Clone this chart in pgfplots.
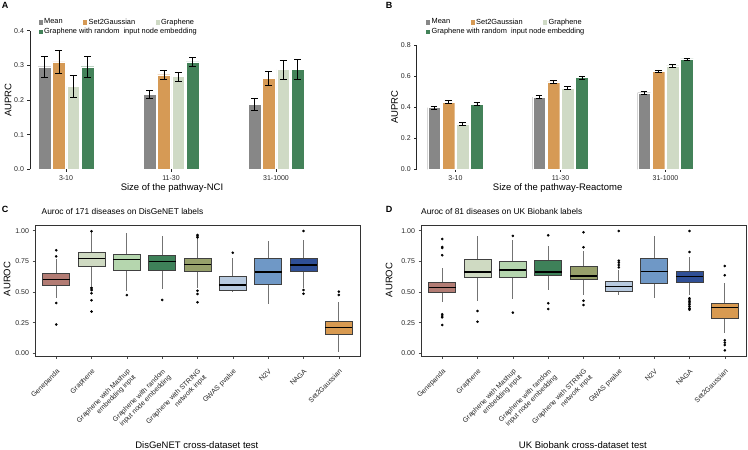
\documentclass[border=0pt]{standalone}
\usepackage{fontspec}
\setmainfont{Liberation Sans}
\usepackage{pgfplots}
\pgfplotsset{compat=1.18}
\usepgfplotslibrary{statistics}

\definecolor{barMean}{HTML}{878787}
\definecolor{barS2G}{HTML}{D69A55}
\definecolor{barGr}{HTML}{CFDAC5}
\definecolor{barGR}{HTML}{438259}
\definecolor{cGene}{HTML}{B37C74}
\definecolor{cGraph}{HTML}{CFDAC2}
\definecolor{cMash}{HTML}{B5D6AE}
\definecolor{cRand}{HTML}{3E8159}
\definecolor{cString}{HTML}{97A06B}
\definecolor{cGwas}{HTML}{B8CADF}
\definecolor{cNtv}{HTML}{6F98C6}
\definecolor{cNaga}{HTML}{2F4F96}
\definecolor{cSG}{HTML}{D89A51}

\newcommand{\fT}{\fontsize{7}{8}\selectfont}
\newcommand{\fL}{\fontsize{9.5}{11}\selectfont}
\newcommand{\fG}{\fontsize{7.4}{8.5}\selectfont}
\newcommand{\fH}{\fontsize{8.4}{10}\selectfont}

\pgfplotsset{
  barpanel/.style={
    anchor=south west, scale only axis,
    axis lines*=left, axis line style={-}, x axis line style={draw=none},
    y axis line style={black!85, line width=0.7pt},
    xtick={0,1,2}, xticklabels={3-10,11-30,31-1000},
    tick align=outside, major tick length=2.5pt, tick style={black!85, line width=0.5pt},
    ticklabel style={font=\fT, text=black!85},
    yticklabel style={/pgf/number format/.cd, fixed, fixed zerofill, precision=1, assume math mode=true},
    ybar, bar width=0.121,
    legend image code/.code={\fill[##1] (0pt,-2.6pt) rectangle (5.2pt,2.6pt);},
    legend columns=3, legend cell align=left,
    legend style={draw=none, fill=none, font=\fG, inner sep=0pt, row sep=1pt,
      nodes={inner sep=1pt}, /tikz/every even column/.append style={column sep=18.5pt}},
    error bars/y dir=both, error bars/y explicit,
    error bars/error bar style={draw=black, line width=0.7pt},
    error bars/error mark options={rotate=90, draw=black, line width=0.7pt, mark size=3.4pt},
  },
  boxpanel/.style={
    anchor=south west, scale only axis, width=325pt, height=131pt,
    xmin=0.4, xmax=9.6, ymin=-0.022, ymax=1.046,
    axis line style={black!80, line width=0.8pt},
    xtick={1,...,9},
    xticklabels={Genepanda, Graphene, {Graphene with Mashup\\embedding input},
      {Graphene with random\\input node embedding}, {Graphene with STRING\\network input},
      GWAS pvalue, N2V, NAGA, Set2Gaussian},
    ytick={0,0.25,0.5,0.75,1},
    yticklabel style={/pgf/number format/.cd, fixed, fixed zerofill, precision=2, assume math mode=true},
    xtick pos=left, ytick pos=left, tick align=outside, major tick length=2.5pt,
    tick style={black!70, line width=0.5pt},
    ticklabel style={font=\fT, text=black!85},
    xticklabel style={yshift=-5pt, rotate=45, anchor=north east, align=right},
    title style={anchor=base west, font=\fH, inner sep=0pt},
  },
  bx/.style={mark=*, mark size=1.1pt, mark options={fill=black, draw=black, solid},
    boxplot/draw direction=y,
    boxplot/box extend=0.76, boxplot/whisker extend=0,
    boxplot/every box/.style={draw=black!75, line width=0.75pt, fill=#1},
    boxplot/every whisker/.style={draw=black!55, line width=0.7pt},
    boxplot/every median/.style={draw=black, line width=1.1pt}},
}

\begin{document}
\begin{tikzpicture}
\useasboundingbox (0,0) rectangle (748pt,-450pt);

\node[anchor=base west, font=\fontsize{9}{10}\selectfont\bfseries, inner sep=0pt] at (1.7pt,-8.3pt) {A};
\node[anchor=base west, font=\fontsize{9}{10}\selectfont\bfseries, inner sep=0pt] at (385.7pt,-8.3pt) {B};
\node[anchor=base west, font=\fontsize{9}{10}\selectfont\bfseries, inner sep=0pt] at (1.7pt,-212.3pt) {C};
\node[anchor=base west, font=\fontsize{9}{10}\selectfont\bfseries, inner sep=0pt] at (385.7pt,-212.3pt) {D};

% ---------------- A
\begin{axis}[barpanel,
  at={(30pt,-169.3pt)}, width=282pt, height=138.6pt,
  xmin=-0.343, xmax=2.343, ymin=0, ymax=0.4,
  ytick={0,0.1,0.2,0.3,0.4},
  ylabel={AUPRC}, ylabel style={at={(axis description cs:-0.078,0.5)}, anchor=center, font=\fL},
  xlabel={Size of the pathway-NCI}, xlabel style={at={(axis description cs:0.5035,0)}, anchor=center, yshift=-18.7pt, font=\fL},
  legend style={at={(axis description cs:0.0266,1.095)}, anchor=north west},
]
\addplot[fill=barMean, draw=white, line width=0.3pt, bar shift=0pt] coordinates {(-0.204,0.296) +- (0,0.031) (0.796,0.216) +- (0,0.012) (1.796,0.188) +- (0,0.018)};
\addplot[fill=barS2G, draw=white, line width=0.3pt, bar shift=0pt] coordinates {(-0.068,0.310) +- (0,0.033) (0.932,0.273) +- (0,0.012) (1.932,0.262) +- (0,0.021)};
\addplot[fill=barGr, draw=white, line width=0.3pt, bar shift=0pt] coordinates {(0.068,0.240) +- (0,0.031) (1.068,0.268) +- (0,0.013) (2.068,0.288) +- (0,0.027)};
\addplot[fill=barGR, draw=white, line width=0.3pt, bar shift=0pt] coordinates {(0.204,0.296) +- (0,0.030) (1.204,0.310) +- (0,0.013) (2.204,0.288) +- (0,0.029)};
\legend{Mean, Set2Gaussian, Graphene, \makebox[0pt][l]{Graphene with random\ \ input node embedding}}
\end{axis}

% ---------------- B
\begin{axis}[barpanel,
  at={(416.7pt,-169.3pt)}, width=287.6pt, height=124.3pt,
  xmin=-0.3695, xmax=2.3695, ymin=0, ymax=0.8,
  ytick={0,0.2,0.4,0.6,0.8},
  ylabel={AUPRC}, ylabel style={at={(axis description cs:-0.0765,0.5)}, anchor=center, font=\fL},
  xlabel={Size of the pathway-Reactome}, xlabel style={at={(axis description cs:0.49,0)}, anchor=center, yshift=-18.4pt, font=\fL},
  legend style={at={(axis description cs:0.0289,1.2212)}, anchor=north west},
]
\addplot[fill=barMean, draw=white, line width=0.3pt, bar shift=0pt] coordinates {(-0.204,0.397) +- (0,0.008) (0.796,0.465) +- (0,0.009) (1.796,0.493) +- (0,0.010)};
\addplot[fill=barS2G, draw=white, line width=0.3pt, bar shift=0pt] coordinates {(-0.068,0.433) +- (0,0.008) (0.932,0.562) +- (0,0.008) (1.932,0.632) +- (0,0.008)};
\addplot[fill=barGr, draw=white, line width=0.3pt, bar shift=0pt] coordinates {(0.068,0.293) +- (0,0.007) (1.068,0.522) +- (0,0.009) (2.068,0.667) +- (0,0.008)};
\addplot[fill=barGR, draw=white, line width=0.3pt, bar shift=0pt] coordinates {(0.204,0.420) +- (0,0.009) (1.204,0.590) +- (0,0.010) (2.204,0.710) +- (0,0.007)};
\legend{Mean, Set2Gaussian, Graphene, \makebox[0pt][l]{Graphene with random\ \ input node embedding}}
\end{axis}

% ---------------- C
\begin{axis}[boxpanel,
  at={(35pt,-356pt)},
  title={Auroc of 171 diseases on DisGeNET labels},
  title style={at={(axis description cs:0.02,1)}, yshift=5pt},
  ylabel={AUROC}, ylabel style={at={(axis description cs:-0.086,0.588)}, anchor=center, font=\fL},
  xlabel={DisGeNET cross-dataset test}, xlabel style={at={(axis description cs:0.498,0)}, anchor=center, yshift=-89pt, font=\fL},
]
\addplot[bx=cGene, boxplot prepared={draw position=1, lower whisker=0.45, lower quartile=0.556, median=0.602, upper quartile=0.650, upper whisker=0.77}]
  table[row sep=\\, y index=0] {v\\0.84\\0.79\\0.41\\0.235\\};
\addplot[bx=cGraph, boxplot prepared={draw position=2, lower whisker=0.545, lower quartile=0.707, median=0.774, upper quartile=0.821, upper whisker=0.985}]
  table[row sep=\\, y index=0] {v\\0.995\\0.535\\0.525\\0.515\\0.49\\0.432\\0.34\\};
\addplot[bx=cMash, boxplot prepared={draw position=3, lower whisker=0.51, lower quartile=0.677, median=0.766, upper quartile=0.807, upper whisker=0.978}]
  table[row sep=\\, y index=0] {v\\0.475\\};
\addplot[bx=cRand, boxplot prepared={draw position=4, lower whisker=0.524, lower quartile=0.677, median=0.745, upper quartile=0.796, upper whisker=0.954}]
  table[row sep=\\, y index=0] {v\\0.435\\};
\addplot[bx=cString, boxplot prepared={draw position=5, lower whisker=0.53, lower quartile=0.670, median=0.726, upper quartile=0.774, upper whisker=0.93}]
  table[row sep=\\, y index=0] {v\\0.965\\0.957\\0.945\\0.51\\0.484\\0.416\\};
\addplot[bx=cGwas, boxplot prepared={draw position=6, lower whisker=0.497, lower quartile=0.516, median=0.557, upper quartile=0.625, upper whisker=0.78}]
  table[row sep=\\, y index=0] {v\\0.82\\};
\addplot[bx=cNtv, boxplot prepared={draw position=7, lower whisker=0.402, lower quartile=0.5625, median=0.663, upper quartile=0.772, upper whisker=0.916}]
  coordinates {};
\addplot[bx=cNaga, boxplot prepared={draw position=8, lower whisker=0.53, lower quartile=0.671, median=0.72, upper quartile=0.772, upper whisker=0.92}]
  table[row sep=\\, y index=0] {v\\0.997\\0.516\\0.486\\};
\addplot[bx=cSG, boxplot prepared={draw position=9, lower whisker=0.014, lower quartile=0.158, median=0.209, upper quartile=0.264, upper whisker=0.416}]
  table[row sep=\\, y index=0] {v\\0.503\\0.476\\};
\end{axis}

% ---------------- D
\begin{axis}[boxpanel,
  at={(421pt,-356pt)},
  title={Auroc of 81 diseases on UK Biobank labels},
  title style={at={(axis description cs:0,1)}, yshift=5pt},
  ylabel={AUROC}, ylabel style={at={(axis description cs:-0.098,0.58)}, anchor=center, font=\fL},
  xlabel={UK Biobank cross-dataset test}, xlabel style={at={(axis description cs:0.498,0)}, anchor=center, yshift=-89pt, font=\fL},
]
\addplot[bx=cGene, boxplot prepared={draw position=1, lower whisker=0.421, lower quartile=0.5, median=0.535, upper quartile=0.576, upper whisker=0.693}]
  table[row sep=\\, y index=0] {v\\0.80\\0.859\\0.867\\0.932\\0.318\\0.304\\0.293\\0.231\\};
\addplot[bx=cGraph, boxplot prepared={draw position=2, lower whisker=0.429, lower quartile=0.617, median=0.663, upper quartile=0.766, upper whisker=0.959}]
  table[row sep=\\, y index=0] {v\\0.345\\0.258\\};
\addplot[bx=cMash, boxplot prepared={draw position=3, lower whisker=0.44, lower quartile=0.622, median=0.679, upper quartile=0.753, upper whisker=0.924}]
  table[row sep=\\, y index=0] {v\\0.957\\0.332\\};
\addplot[bx=cRand, boxplot prepared={draw position=4, lower whisker=0.52, lower quartile=0.633, median=0.663, upper quartile=0.761, upper whisker=0.872}]
  table[row sep=\\, y index=0] {v\\0.962\\0.408\\0.361\\};
\addplot[bx=cString, boxplot prepared={draw position=5, lower whisker=0.476, lower quartile=0.606, median=0.63, upper quartile=0.707, upper whisker=0.834}]
  table[row sep=\\, y index=0] {v\\0.864\\0.986\\0.429\\0.394\\};
\addplot[bx=cGwas, boxplot prepared={draw position=6, lower whisker=0.476, lower quartile=0.503, median=0.541, upper quartile=0.584, upper whisker=0.679}]
  table[row sep=\\, y index=0] {v\\0.70\\0.72\\0.739\\0.755\\0.997\\};
\addplot[bx=cNtv, boxplot prepared={draw position=7, lower whisker=0.448, lower quartile=0.571, median=0.666, upper quartile=0.774, upper whisker=0.959}]
  coordinates {};
\addplot[bx=cNaga, boxplot prepared={draw position=8, lower whisker=0.476, lower quartile=0.579, median=0.625, upper quartile=0.666, upper whisker=0.788}]
  table[row sep=\\, y index=0] {v\\0.826\\0.997\\0.448\\0.435\\0.42\\0.41\\0.395\\0.38\\0.365\\0.355\\};
\addplot[bx=cSG, boxplot prepared={draw position=9, lower whisker=0.163, lower quartile=0.285, median=0.37, upper quartile=0.408, upper whisker=0.576}]
  table[row sep=\\, y index=0] {v\\0.636\\0.712\\0.106\\0.087\\0.068\\0.024\\};
\end{axis}
\end{tikzpicture}
\end{document}
